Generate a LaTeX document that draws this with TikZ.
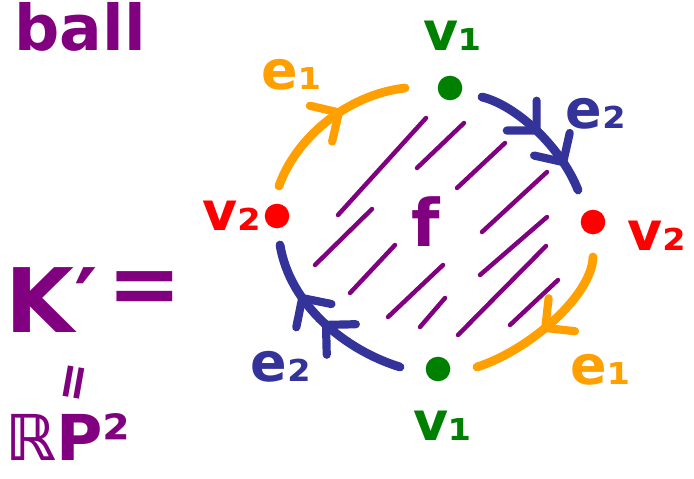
\documentclass[tikz,border=0pt]{standalone}
\usepackage{fontspec}
\setmainfont{DejaVu Sans}
\usetikzlibrary{arrows.meta,decorations.markings}
\definecolor{inkpurple}{RGB}{128,0,128}
\definecolor{inkgreen}{RGB}{0,128,0}
\definecolor{inkred}{RGB}{255,0,0}
\definecolor{inkorange}{RGB}{255,160,0}
\definecolor{inkblue}{RGB}{51,51,153}

\begin{document}
\begin{tikzpicture}[
    x=0.03cm, y=-0.03cm,
    vdot/.style={circle, fill, inner sep=0pt, minimum size=21pt},
    lbl/.style={inner sep=0pt, font=\fontsize{46}{46}\selectfont\bfseries},
    big/.style={inner sep=0pt, font=\fontsize{#1}{#1}\selectfont\bfseries, inkpurple},
    edge/.style={line width=7.5pt, line cap=round, line join=round},
    hatch/.style={inkpurple, line width=3.8pt, line cap=round},
    barb/.tip={Straight Barb[length=18pt, width=36pt, round, line width=7pt]},
    onearr/.style={postaction={decorate}, decoration={markings,
        mark=at position #1 with {\arrow{barb}}}},
    twoarr/.style 2 args={postaction={decorate}, decoration={markings,
        mark=at position #1 with {\arrow{barb}},
        mark=at position #2 with {\arrow{barb}}}}
  ]
  \useasboundingbox (0,0) rectangle (694,479);

  \node[big=54] (ball) at (80,27) {ball};
  \node[big=76] (kprime) at (52,300) {K′};
  \node[big=76] (eq) at (145,293) {=};
  \node[big=42, rotate=80] (veq) at (77,383) {=};
  \node[big=54] (rp) at (68,437) {ℝP²};

  \node[vdot, inkgreen] (v1t) at (450,88) {};
  \node[vdot, inkred] (v2l) at (277,216) {};
  \node[vdot, inkred] (v2r) at (593,222) {};
  \node[vdot, inkgreen] (v1b) at (438,369) {};

  \node[lbl, inkgreen] (lv1t) at (453,36) {v₁};
  \node[lbl, inkred] (lv2l) at (232,216) {v₂};
  \node[lbl, inkred] (lv2r) at (657,236) {v₂};
  \node[lbl, inkgreen] (lv1b) at (443,426) {v₁};

  \node[lbl, inkorange] (le1t) at (292,75) {e₁};
  \node[lbl, inkblue] (le2t) at (596,114) {e₂};
  \node[lbl, inkblue] (le2b) at (281,367) {e₂};
  \node[lbl, inkorange] (le1b) at (601,370) {e₁};
  \node[big=56] (face) at (426,222) {f};

  \coordinate (e1a) at (279,186);
  \coordinate (e1b) at (405,88);
  \coordinate (e2a) at (482,97);
  \coordinate (e2b) at (578,190);
  \coordinate (e1c) at (593,257);
  \coordinate (e1d) at (477,367);
  \coordinate (e2c) at (400,367);
  \coordinate (e2d) at (280,245);

  \foreach \xa/\ya/\xb/\yb in {426/118/338/215, 464/123/417/168, 505/143/457/188,
      547/172/482/232, 372/209/315/265, 547/217/480/275, 546/246/458/335,
      395/245/350/293, 443/265/388/317, 445/298/420/327, 558/280/510/325}
    \draw[hatch] (\xa,\ya) -- (\xb,\yb);

  \draw[edge, inkorange, onearr=0.6] (e1a) .. controls (295,140) and (345,95) .. (e1b);
  \draw[edge, inkblue, twoarr={0.5}{0.8}] (e2a) .. controls (515,105) and (560,145) .. (e2b);
  \draw[edge, inkorange, onearr=0.55] (e1c) .. controls (592,295) and (530,350) .. (e1d);
  \draw[edge, inkblue, twoarr={0.5}{0.7}] (e2c) .. controls (345,350) and (290,305) .. (e2d);
\end{tikzpicture}
\end{document}
